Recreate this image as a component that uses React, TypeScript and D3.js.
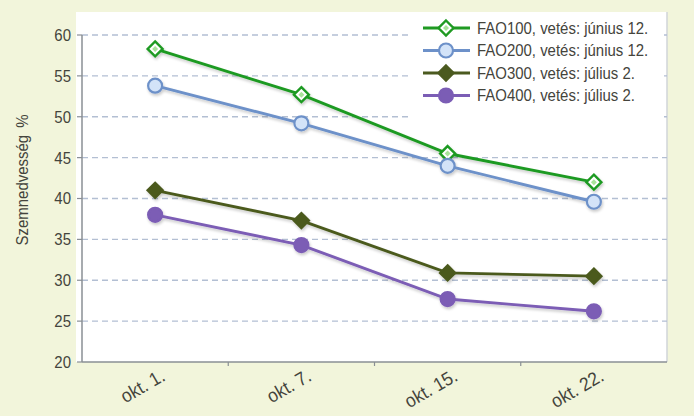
import React from "react";
import * as d3 from "d3";

const categories = ["okt. 1.", "okt. 7.", "okt. 15.", "okt. 22."];
const seriesNames = [
  "FAO100, vetés: június 12.",
  "FAO200, vetés: június 12.",
  "FAO300, vetés: július 2.",
  "FAO400, vetés: július 2.",
];
const fao100 = [58.3, 52.7, 45.5, 42.0];
const fao200 = [53.8, 49.2, 44.0, 39.6];
const fao300 = [41.0, 37.3, 30.9, 30.5];
const fao400 = [38.0, 34.3, 27.7, 26.2];
const yTicks = [20, 25, 30, 35, 40, 45, 50, 55, 60];
const yLabelMain = "Szemnedvesség";
const yLabelUnit = "%";

const W = 694;
const H = 416;
const FONT = "'Liberation Sans', Arial, sans-serif";
const TXT = "#44443c";

const styles = [
  { color: "#1f9a22", shape: "diamond", fill: "#ffffff", inner: "#a8e39a" },
  { color: "#6d91c9", shape: "circle", fill: "#d3e3f8", inner: null },
  { color: "#4b5a1f", shape: "diamond", fill: "#4b5a1f", inner: null },
  { color: "#7b5db5", shape: "circle", fill: "#7b5db5", inner: null },
];

function Marker({ x, y, s }: { x: number; y: number; s: any }) {
  if (s.shape === "diamond") {
    const r = 7.5;
    const d = `M${x},${y - r}L${x + r},${y}L${x},${y + r}L${x - r},${y}Z`;
    const r2 = 3;
    const d2 = `M${x},${y - r2}L${x + r2},${y}L${x},${y + r2}L${x - r2},${y}Z`;
    return (
      <g>
        <path d={d} fill={s.fill} stroke={s.color} strokeWidth={2.4} />
        {s.inner && <path d={d2} fill={s.inner} />}
      </g>
    );
  }
  return <circle cx={x} cy={y} r={7} fill={s.fill} stroke={s.color} strokeWidth={2.2} />;
}

function NText({
  x,
  y,
  rot = 0,
  sx = 0.88,
  anchor = "start",
  size = 16,
  children,
}: any) {
  return (
    <text
      transform={`translate(${x},${y}) rotate(${rot}) scale(${sx},1)`}
      textAnchor={anchor}
      dy="0.35em"
      fontSize={size}
      fill={TXT}
    >
      {children}
    </text>
  );
}

export default function App() {
  const data = [fao100, fao200, fao300, fao400];
  const x = d3.scalePoint<string>().domain(categories).range([82, 667]).padding(0.5);
  const y = d3.scaleLinear().domain([20, 60]).range([362, 35]);
  const line = d3
    .line<number>()
    .x((_, i) => x(categories[i]) as number)
    .y((d) => y(d));
  const step = x.step();
  const xBoundaries = categories.slice(1).map((c) => (x(c) as number) - step / 2);

  return (
    <svg
      width={W}
      height={H}
      style={{ position: "absolute", left: 0, top: 0, fontFamily: FONT }}
    >
      <defs>
        <filter id="sh" x="-10%" y="-10%" width="120%" height="130%">
          <feGaussianBlur in="SourceAlpha" stdDeviation="1.5" />
          <feOffset dx="1" dy="2" result="b" />
          <feComponentTransfer>
            <feFuncA type="linear" slope="0.22" />
          </feComponentTransfer>
          <feMerge>
            <feMergeNode />
            <feMergeNode in="SourceGraphic" />
          </feMerge>
        </filter>
      </defs>
      <rect x={0} y={0} width={W} height={H} fill="#f2f5db" />
      {/* plot panel */}
      <rect x={76} y={12} width={591} height={350} fill="#ffffff" />
      <line x1={667} x2={667} y1={12} y2={362} stroke="#d0d4d8" strokeWidth={1.5} />
      {/* gridlines */}
      {yTicks.slice(1).map((t) => (
        <line
          key={t}
          x1={82}
          x2={667}
          y1={y(t)}
          y2={y(t)}
          stroke="#b3bfd3"
          strokeWidth={1.3}
          strokeDasharray="6,4"
        />
      ))}
      {/* axes */}
      <line x1={82} x2={82} y1={y(60)} y2={y(20)} stroke="#8a8f94" strokeWidth={1.5} />
      <line x1={82} x2={667} y1={y(20)} y2={y(20)} stroke="#8a8f94" strokeWidth={1.5} />
      {yTicks.map((t) => (
        <g key={t}>
          <line x1={77} x2={82} y1={y(t)} y2={y(t)} stroke="#8a8f94" strokeWidth={1.2} />
          <NText x={71} y={y(t)} anchor="end" size={17}>
            {t}
          </NText>
        </g>
      ))}
      {xBoundaries.map((b, i) => (
        <line key={i} x1={b} x2={b} y1={362} y2={366} stroke="#8a8f94" strokeWidth={1.2} />
      ))}
      {categories.map((c) => (
        <NText
          key={c}
          x={(x(c) as number) + 8}
          y={374}
          rot={-30}
          anchor="end"
          size={19}
          sx={0.92}
        >
          {c}
        </NText>
      ))}
      <text
        transform={`translate(22,180) rotate(-90) scale(0.88,1)`}
        textAnchor="middle"
        dy="0.35em"
        fontSize={17}
        fill={TXT}
      >
        {yLabelMain}
        <tspan dx={8}>{yLabelUnit}</tspan>
      </text>
      {/* series */}
      {data.map((vals, si) => (
        <g key={si} filter="url(#sh)">
          <path d={line(vals) || ""} fill="none" stroke={styles[si].color} strokeWidth={2.9} />
          {vals.map((v, i) => (
            <Marker key={i} x={x(categories[i]) as number} y={y(v)} s={styles[si]} />
          ))}
        </g>
      ))}
      {/* legend */}
      <rect x={412} y={13} width={252} height={105} fill="#ffffff" />
      {seriesNames.map((n, i) => {
        const ly = 28 + i * 22.5;
        return (
          <g key={n}>
            <line x1={423} x2={470} y1={ly} y2={ly} stroke={styles[i].color} strokeWidth={2.9} />
            <Marker x={446} y={ly} s={styles[i]} />
            <NText x={477} y={ly} size={17} sx={0.88}>
              {n}
            </NText>
          </g>
        );
      })}
    </svg>
  );
}
